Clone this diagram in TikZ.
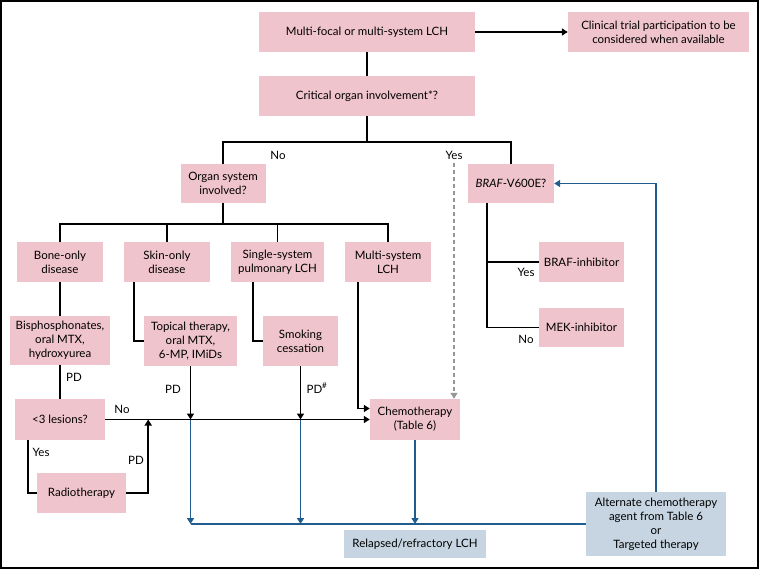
\documentclass[tikz,border=0pt]{standalone}
\usepackage{fontspec}
\setmainfont{Lato}
\usepackage{xcolor}
\usepackage{tikz}
\usetikzlibrary{arrows.meta, positioning, calc}
\definecolor{boxpink}{RGB}{240, 196, 204}
\definecolor{boxblue}{RGB}{198, 213, 225}
\definecolor{lineblue}{RGB}{32, 92, 142}
\definecolor{dashgray}{RGB}{150, 150, 150}
\tikzstyle{pinkbox} = [rectangle, fill=boxpink, align=center, inner sep=2pt, font=\fontsize{11.5}{14}\selectfont]
\tikzstyle{bluebox} = [rectangle, fill=boxblue, align=center, inner sep=2pt, font=\fontsize{11.5}{14}\selectfont]
\tikzstyle{lbl} = [font=\fontsize{11.5}{13}\selectfont, inner sep=0pt]
\tikzstyle{link} = [line width=1.7pt, black]
\tikzstyle{arrow} = [line width=1.7pt, black, -{Triangle[length=6pt,width=7pt]}]
\tikzstyle{bluearrow} = [line width=1.7pt, lineblue, -{Triangle[length=6pt,width=7pt]}]
\tikzstyle{dasharrow} = [line width=1.3pt, dashgray, dash pattern=on 4pt off 3pt, -{Triangle[length=6pt,width=7pt]}]

\begin{document}
\begin{tikzpicture}[x=1pt, y=-1pt]
    \useasboundingbox (0,0) rectangle (759,569);
    \draw[line width=1.8pt] (0.9,0.9) rectangle (758.1,568.1);

    % Top of the chart
    \node[pinkbox, minimum width=216pt, minimum height=40pt] (multi) at (367, 32) {Multi-focal or multi-system LCH};
    \node[pinkbox, minimum width=181pt, minimum height=40pt] (trial) at (658.5, 32) {Clinical trial participation to be\\considered when available};
    \node[pinkbox, minimum width=216pt, minimum height=40pt] (critical) at (367, 96) {Critical organ involvement*?};
    \coordinate (critsplit) at (367, 142);

    \node[pinkbox, minimum width=85pt, minimum height=39pt] (organ) at (223, 183.5) {Organ system\\involved?};
    \node[pinkbox, minimum width=86pt, minimum height=39pt] (braf) at (511, 183.5) {\textit{BRAF}-V600E?};
    \coordinate (organsplit) at (223, 224);

    % Organ systems
    \node[pinkbox, minimum width=86pt, minimum height=40pt] (bone) at (60, 262) {Bone-only\\disease};
    \node[pinkbox, minimum width=86pt, minimum height=40pt] (skin) at (167, 262) {Skin-only\\disease};
    \node[pinkbox, minimum width=93pt, minimum height=40pt] (single) at (277.5, 262) {Single-system\\pulmonary LCH};
    \node[pinkbox, minimum width=86pt, minimum height=40pt] (multisys) at (388, 262) {Multi-system\\LCH};

    \node[pinkbox, minimum width=85pt, minimum height=40pt] (brafinh) at (581.5, 262) {BRAF-inhibitor};
    \node[pinkbox, minimum width=85pt, minimum height=39pt] (mekinh) at (581.5, 327.5) {MEK-inhibitor};

    % Treatments
    \node[pinkbox, minimum width=100pt, minimum height=49pt] (bisph) at (60, 340.5) {Bisphosphonates,\\oral MTX,\\hydroxyurea};
    \node[pinkbox, minimum width=93pt, minimum height=50pt] (topical) at (190.5, 341) {Topical therapy,\\oral MTX,\\6-MP, IMiDs};
    \node[pinkbox, minimum width=75pt, minimum height=50pt] (smoking) at (300.5, 341) {Smoking\\cessation};

    \node[pinkbox, minimum width=90pt, minimum height=41pt] (lesions) at (60, 419.5) {<3 lesions?};
    \node[pinkbox, minimum width=90pt, minimum height=41pt] (chemo) at (415, 419.5) {Chemotherapy\\(Table 6)};
    \node[pinkbox, minimum width=89pt, minimum height=40pt] (radio) at (81.5, 493) {Radiotherapy};

    \node[bluebox, minimum width=142pt, minimum height=28pt] (relapsed) at (415, 544) {Relapsed/refractory LCH};
    \node[bluebox, minimum width=140pt, minimum height=64pt] (alternate) at (656, 524) {Alternate chemotherapy\\agent from Table 6\\or\\Targeted therapy};

    % Labels
    \node[lbl] (lno) at (278, 155) {No};
    \node[lbl] (lyes) at (454, 155) {Yes};
    \node[lbl] (lbrafyes) at (526, 272) {Yes};
    \node[lbl] (lbrafno) at (526, 339) {No};
    \node[lbl, anchor=west] (lpdbone) at (66, 377) {PD};
    \node[lbl] (lpdskin) at (173, 389) {PD};
    \node[lbl] (lpdsmoke) at (317, 388) {PD\textsuperscript{\#}};
    \node[lbl] (llesno) at (122, 409) {No};
    \node[lbl] (llesyes) at (41, 452) {Yes};
    \node[lbl] (lpdradio) at (136, 460) {PD};
    \coordinate (yesdrop) at (454, 163);

    % Arrows
    \draw[arrow] (multi.east) -- (trial.west);
    \draw[link] (multi.south) -- (critical.north);
    \draw[link] (critical.south) -- (critsplit);
    \draw[link] (organ.north) |- (critsplit) -| (braf.north);
    \draw[dasharrow] (yesdrop) -- (yesdrop |- chemo.north);

    \draw[link] (organ.south) -- (organsplit);
    \draw[link] (bone.north) |- (organsplit) -| (multisys.north);
    \draw[link] (skin.north) -- (skin.north |- organsplit);
    \draw[link] (single.north) -- (single.north |- organsplit);

    \draw[link] ([xshift=19pt]braf.south west) |- (mekinh.west);
    \draw[link] ([xshift=19pt]braf.south west |- brafinh.west) -- (brafinh.west);

    \draw[link] (bone.south) -- (bisph.north);
    \draw[link] (bisph.south) -- (lesions.north);
    \draw[link] ([xshift=10pt]skin.south west) |- (topical.west);
    \draw[link] ([xshift=22pt]single.south west) |- (smoking.west);
    \draw[arrow] ([xshift=13pt]multisys.south west) |- ([yshift=11pt]chemo.west);

    \draw[arrow] (lesions.east) -- (chemo.west);
    \draw[link] ([xshift=13pt]lesions.south west) |- (radio.west);
    \draw[arrow] (radio.east) -| ([xshift=43pt]lesions.east);
    \draw[arrow] (topical.south) -- (topical.south |- lesions.east);
    \draw[arrow] (smoking.south) -- (smoking.south |- lesions.east);

    % Relapse loop
    \draw[bluearrow] (topical.south |- lesions.east) -- (topical.south |- alternate.west);
    \draw[bluearrow] (smoking.south |- lesions.east) -- (smoking.south |- alternate.west);
    \draw[bluearrow] (chemo.south) -- (chemo.south |- alternate.west);
    \draw[link, lineblue] (topical.south |- alternate.west) -- (alternate.west);
    \draw[bluearrow] (alternate.north) |- (braf.east);
\end{tikzpicture}
\end{document}
